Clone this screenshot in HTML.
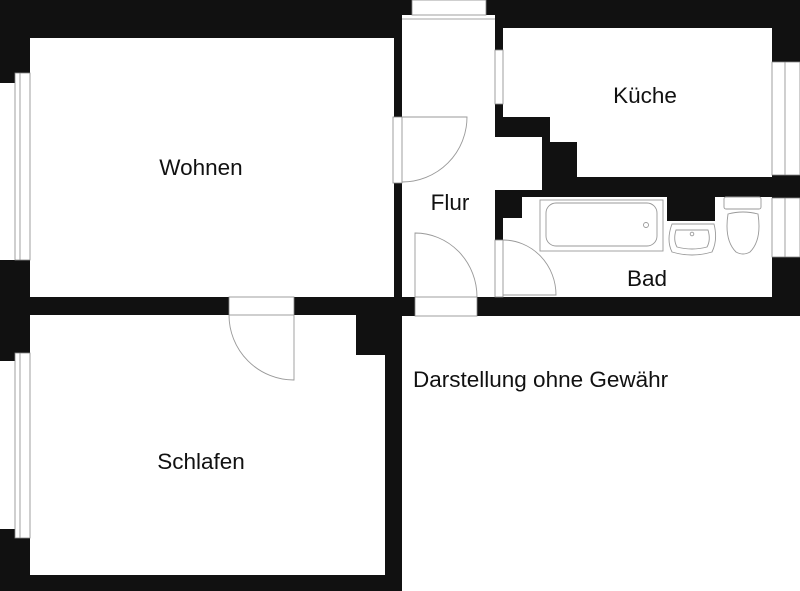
<!DOCTYPE html>
<html><head><meta charset="utf-8"><style>
html,body{margin:0;padding:0;background:#fff;}
svg{display:block;}
text{font-family:"Liberation Sans",sans-serif;fill:#111;}
</style></head><body>
<svg width="800" height="591" viewBox="0 0 800 591" xmlns="http://www.w3.org/2000/svg">
<rect x="0" y="0" width="402" height="591" fill="#111"/>
<rect x="393" y="0" width="407" height="316" fill="#111"/>
<g fill="#fff">
<rect x="30" y="38" width="364" height="259"/>
<rect x="30" y="315" width="355" height="260"/>
<rect x="356" y="315" width="29" height="40" fill="#111"/>
<rect x="402" y="15" width="93" height="282"/>
<rect x="495" y="137" width="47" height="53"/>
<polygon points="503,28 772,28 772,177 577,177 577,142 550,142 550,117 503,117"/>
<polygon points="522,197 772,197 772,297 503,297 503,218 522,218"/>
<rect x="402" y="316" width="398" height="275"/>
</g>
<rect x="667" y="197" width="48" height="24" fill="#111"/>
<g fill="#fff" stroke="#888" stroke-width="0.8">
<rect x="0" y="83" width="15" height="177" stroke="none"/>
<rect x="15" y="73" width="15" height="187"/>
<line x1="20" y1="73" x2="20" y2="260"/>
<rect x="0" y="361" width="15" height="168" stroke="none"/>
<rect x="15" y="353" width="15" height="185"/>
<line x1="20" y1="353" x2="20" y2="538"/>
<rect x="412" y="0" width="74" height="15"/>
<line x1="402" y1="19" x2="495" y2="19"/>
<rect x="495" y="50" width="8" height="54"/>
<rect x="772" y="62" width="28" height="113"/>
<line x1="785" y1="62" x2="785" y2="175"/>
<rect x="772" y="198" width="28" height="59"/>
<line x1="785" y1="198" x2="785" y2="257"/>
<rect x="229" y="297" width="65" height="18"/>
<rect x="393" y="117" width="9" height="66"/>
<rect x="415" y="297" width="62" height="19"/>
<rect x="495" y="240" width="8" height="57"/>
</g>
<g fill="none" stroke="#999" stroke-width="0.9">
<path d="M294,315 L294,380 A65,65 0 0 1 229,315"/>
<path d="M402,117 L467,117 A65,65 0 0 1 402,182"/>
<path d="M415,297 L415,233 A62,64 0 0 1 477,297"/>
<path d="M503,295 L556,295 A53,55 0 0 0 503,240"/>
<rect x="540" y="200" width="123" height="51"/>
<rect x="546" y="203" width="111" height="43" rx="10"/>
<circle cx="646" cy="225" r="2.5"/>
<path d="M672,224 L714,224 Q718,240 712,252 Q692,258 672,252 Q666,240 672,224 Z"/>
<path d="M676,230 L708,230 Q711,240 707,247 Q692,251 677,247 Q673,240 676,230 Z"/>
<circle cx="692" cy="234" r="1.8"/>
<rect x="724" y="197" width="37" height="12" rx="2"/>
<path d="M728,214 Q743,210 758,214 Q762,240 750,252 Q743,256 736,252 Q724,240 728,214 Z"/>
</g>
<g font-size="22.5">
<text x="201" y="175" text-anchor="middle">Wohnen</text>
<text x="201" y="469" text-anchor="middle">Schlafen</text>
<text x="450" y="210" text-anchor="middle">Flur</text>
<text x="645" y="103" text-anchor="middle">Küche</text>
<text x="647" y="286" text-anchor="middle">Bad</text>
<text x="413" y="387">Darstellung ohne Gewähr</text>
</g>
</svg>
</body></html>
